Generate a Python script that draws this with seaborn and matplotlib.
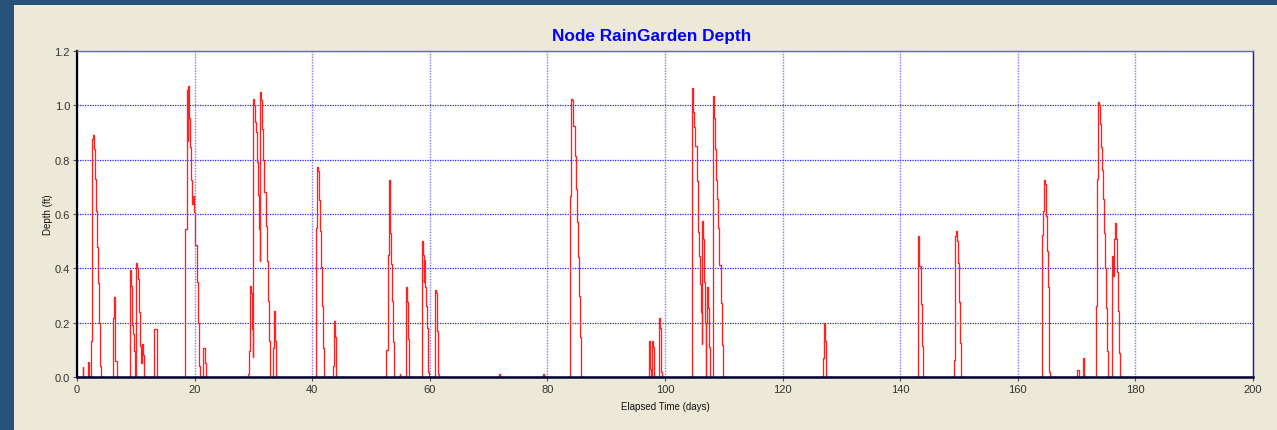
import matplotlib
matplotlib.use("Agg")
import matplotlib.pyplot as plt
import seaborn as sns
import pandas as pd
from matplotlib.patches import Rectangle

# ---- data (elapsed time in days, depth in ft) ----
elapsed_days = [
    0.0,
    0.97, 1.10, 1.85, 2.00, 2.10,
    2.38, 2.55, 2.72, 2.89, 3.06, 3.23, 3.34, 3.57, 3.80, 3.97, 4.08,
    6.18, 6.35, 6.52, 6.75,
    9.01, 9.18, 9.35, 9.52, 9.64, 9.81, 9.98, 10.09, 10.26, 10.37, 10.54, 10.71, 10.88, 11.11, 11.28, 11.45,
    13.15, 13.55, 13.67,
    18.37, 18.65, 18.82, 18.93, 19.10, 19.22, 19.39, 19.56, 19.78, 19.95, 20.12, 20.35, 20.52, 20.69, 20.92,
    21.48, 21.71, 21.88,
    29.14, 29.31, 29.42, 29.59, 29.70, 29.87, 29.99, 30.16, 30.27, 30.44, 30.61, 30.78, 30.90, 31.07,
    31.18, 31.35, 31.52, 31.69, 31.86, 32.09, 32.26, 32.43, 32.60, 32.77,
    33.39, 33.56, 33.72, 33.90,
    40.65, 40.87, 41.04, 41.16, 41.33, 41.50, 41.67, 41.84, 42.00,
    43.60, 43.77, 43.94, 44.05,
    52.55, 52.83, 53.00, 53.17, 53.28, 53.45, 53.62, 53.79, 53.96,
    54.90, 55.00,
    55.90, 56.07, 56.24, 56.41,
    58.62, 58.79, 58.96, 59.07, 59.24, 59.41, 59.52, 59.69, 59.86,
    60.88, 61.05, 61.16, 61.33, 61.50,
    71.80, 71.90,
    79.30, 79.40,
    83.84, 84.07, 84.24, 84.41, 84.64, 84.81, 84.98, 85.15, 85.32, 85.49, 85.71,
    97.28, 97.45, 97.62, 97.84, 98.01, 98.13,
    98.98, 99.15, 99.32, 99.49,
    104.65, 104.82, 104.93, 105.10, 105.39, 105.56, 105.67, 105.78, 105.95, 106.12, 106.24,
    106.35, 106.52, 106.63, 106.80, 106.92, 107.03, 107.20, 107.37, 107.48, 107.65,
    108.11, 108.39, 108.56, 108.73, 108.90, 109.07, 109.24, 109.47, 109.64, 109.81,
    126.81, 126.98, 127.16, 127.33,
    142.97, 143.25, 143.54, 143.71, 143.88,
    149.20, 149.37, 149.54, 149.71, 149.88, 150.05, 150.17, 150.34,
    164.06, 164.23, 164.40, 164.57, 164.74, 164.91, 165.08, 165.25, 165.36, 165.53,
    170.12, 170.35,
    171.14, 171.31,
    173.30, 173.47, 173.64, 173.86, 174.03, 174.20, 174.37, 174.54, 174.71, 174.88, 175.05, 175.22, 175.39,
    176.02, 176.19, 176.30, 176.47, 176.64, 176.82, 176.99, 177.16, 177.33,
    200.0,
]
depth_ft = [
    0.0,
    0.036, 0.0, 0.056, 0.02, 0.0,
    0.134, 0.876, 0.89, 0.84, 0.73, 0.61, 0.48, 0.345, 0.20, 0.04, 0.0,
    0.216, 0.293, 0.06, 0.0,
    0.394, 0.336, 0.19, 0.158, 0.097, 0.0, 0.07, 0.42, 0.40, 0.36, 0.24, 0.115, 0.05, 0.12, 0.08, 0.0,
    0.177, 0.04, 0.0,
    0.545, 1.057, 0.87, 1.072, 0.952, 0.845, 0.726, 0.637, 0.667, 0.606, 0.486, 0.348, 0.20, 0.04, 0.0,
    0.105, 0.05, 0.0,
    0.01, 0.097, 0.334, 0.31, 0.177, 0.074, 1.023, 1.0, 0.937, 0.90, 0.79, 0.671, 0.545, 0.428,
    1.05, 1.02, 0.913, 0.80, 0.682, 0.554, 0.428, 0.281, 0.134, 0.0,
    0.105, 0.242, 0.134, 0.0,
    0.547, 0.774, 0.76, 0.651, 0.536, 0.404, 0.262, 0.105, 0.0,
    0.04, 0.207, 0.146, 0.0,
    0.099, 0.449, 0.726, 0.655, 0.53, 0.416, 0.279, 0.128, 0.0,
    0.012, 0.0,
    0.33, 0.275, 0.14, 0.0,
    0.502, 0.45, 0.35, 0.43, 0.33, 0.26, 0.18, 0.02, 0.0,
    0.321, 0.31, 0.168, 0.01, 0.0,
    0.01, 0.0,
    0.01, 0.0,
    0.667, 1.025, 1.02, 0.925, 0.812, 0.692, 0.572, 0.44, 0.297, 0.148, 0.0,
    0.134, 0.03, 0.0, 0.134, 0.11, 0.0,
    0.216, 0.18, 0.02, 0.0,
    1.064, 0.974, 0.92, 0.849, 0.723, 0.61, 0.533, 0.447, 0.342, 0.238, 0.12,
    0.575, 0.508, 0.35, 0.20, 0.0, 0.20, 0.331, 0.253, 0.109, 0.0,
    1.033, 0.952, 0.841, 0.725, 0.655, 0.548, 0.412, 0.272, 0.118, 0.0,
    0.069, 0.20, 0.134, 0.0,
    0.52, 0.41, 0.269, 0.115, 0.0,
    0.064, 0.52, 0.539, 0.502, 0.42, 0.275, 0.125, 0.0,
    0.523, 0.61, 0.726, 0.71, 0.594, 0.465, 0.33, 0.179, 0.02, 0.0,
    0.027, 0.0,
    0.069, 0.0,
    0.262, 0.729, 1.013, 1.0, 0.931, 0.845, 0.763, 0.655, 0.53, 0.40, 0.253, 0.097, 0.0,
    0.444, 0.373, 0.508, 0.567, 0.508, 0.388, 0.244, 0.09, 0.0,
    0.0,
]
x_ticks = [0, 20, 40, 60, 80, 100, 120, 140, 160, 180, 200]
y_ticks = [0.0, 0.2, 0.4, 0.6, 0.8, 1.0, 1.2]
title_text = "Node RainGarden Depth"
x_label = "Elapsed Time (days)"
y_label = "Depth (ft)"

df = pd.DataFrame({"t": elapsed_days, "d": depth_ft})

sns.set_style("white")
plt.rcParams["font.family"] = ["Liberation Sans", "DejaVu Sans"]

W, H = 1277, 431
fig = plt.figure(figsize=(W / 100, H / 100), dpi=100)
fig.patch.set_facecolor("#ece9d8")
# dark blue window frame along the top and left edges
fig.patches.append(Rectangle((0, (H - 6) / H), 1, 6 / H, transform=fig.transFigure,
                             facecolor="#29527b", edgecolor="none", zorder=-10))
fig.patches.append(Rectangle((0, 0), 14 / W, 1, transform=fig.transFigure,
                             facecolor="#29527b", edgecolor="none", zorder=-10))

ax = fig.add_axes([77 / W, (H - 378) / H, (1253 - 77) / W, (378 - 52) / H])
ax.set_facecolor("white")

sns.lineplot(data=df, x="t", y="d", ax=ax, estimator=None, sort=False,
             drawstyle="steps-post", color="#ff2020", linewidth=0.95, zorder=2.2)

ax.set_xlim(0, 200)
ax.set_ylim(0, 1.2)
ax.set_xticks(x_ticks)
ax.set_xticklabels([str(v) for v in x_ticks])
ax.set_yticks(y_ticks)
ax.set_yticklabels([f"{v:.1f}" for v in y_ticks])

ax.xaxis.grid(True, color="#7878ff", linestyle=(0, (1, 1)), linewidth=1.0, zorder=1)
ax.yaxis.grid(True, color="#2020ff", linestyle=(0, (1, 1)), linewidth=0.9, zorder=1)
ax.set_axisbelow(True)

ax.tick_params(axis="both", which="major", direction="out", length=3, width=0.8,
               color="#555555", labelsize=8, labelcolor="#333333", pad=2)
ax.tick_params(left=True, bottom=True)

for side, col, lw in [("left", "#000000", 1.6), ("bottom", "#000030", 1.8),
                      ("top", "#6a6aa8", 1.0), ("right", "#202080", 1.0)]:
    ax.spines[side].set_visible(True)
    ax.spines[side].set_color(col)
    ax.spines[side].set_linewidth(lw)
    ax.spines[side].set_zorder(5)

ax.set_xlabel(x_label, fontsize=7, color="#111111", labelpad=5)
ax.set_ylabel(y_label, fontsize=7, color="#111111", labelpad=1)

fig.text(652 / W, (H - 36) / H, title_text, ha="center", va="center",
         fontsize=12.4, fontweight="bold", color="#0000ff")

fig.savefig("out.png", dpi=100, facecolor=fig.get_facecolor())
